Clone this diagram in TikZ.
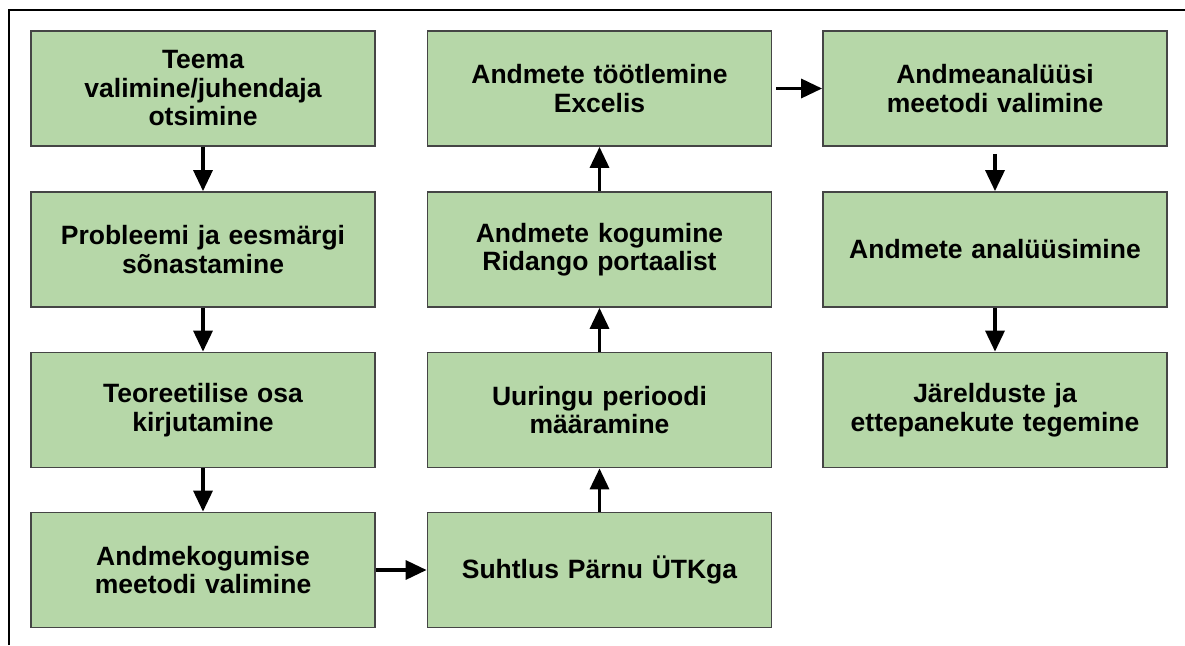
\documentclass[tikz,border=0pt]{standalone}
\usepackage{fontspec}
\setmainfont{Liberation Sans}
\usetikzlibrary{arrows.meta}
\definecolor{boxfill}{HTML}{B6D7A8}
\definecolor{boxline}{HTML}{454545}
\tikzset{
  stepbox/.style={draw=boxline, line width=1.8pt, fill=boxfill, rectangle,
    minimum width=344pt, minimum height=115pt, inner sep=0pt,
    align=center, text width=336pt,
    font=\fontsize{26.5}{28.5}\selectfont\bfseries},
  flow/.style={line width=3.4pt, -{Triangle[length=21pt,width=19pt]}},
  frameline/.style={line width=1.6pt}
}
\begin{document}
\begin{tikzpicture}[x=1pt,y=-1pt]
\useasboundingbox (0,0) rectangle (1185,645);
\coordinate (fa) at (9,645);
\coordinate (fb) at (9,10);
\coordinate (fc) at (1185,10);
\draw[frameline] (fa) -- (fb) -- (fc);
% column 1
\node[stepbox] (a1) at (203,88.5) {Teema\\valimine/juhendaja\\otsimine};
\node[stepbox] (a2) at (203,249.5) {Probleemi ja eesmärgi\\sõnastamine};
\node[stepbox] (a3) at (203,410) {Teoreetilise osa\\kirjutamine};
\node[stepbox] (a4) at (203,570) {Andmekogumise\\meetodi valimine};
% column 2
\node[stepbox] (b4) at (599.5,570) {Suhtlus Pärnu ÜTKga};
\node[stepbox] (b3) at (599.5,410) {Uuringu perioodi\\määramine};
\node[stepbox] (b2) at (599.5,249.5) {Andmete kogumine\\Ridango portaalist};
\node[stepbox] (b1) at (599.5,88.5) {Andmete töötlemine\\Excelis};
% column 3
\node[stepbox] (c1) at (995,88.5) {Andmeanalüüsi\\meetodi valimine};
\node[stepbox] (c2) at (995,249.5) {Andmete analüüsimine};
\node[stepbox] (c3) at (995,410) {Järelduste ja\\ettepanekute tegemine};
% connectors
\draw[flow] (a1) -- (a2);
\draw[flow] (a2) -- (a3);
\draw[flow] (a3) -- (a4);
\draw[flow] (a4) -- (b4);
\draw[flow] (b4) -- (b3);
\draw[flow] (b3) -- (b2);
\draw[flow] (b2) -- (b1);
\draw[flow, shorten <=4pt] (b1) -- (c1);
\draw[flow, shorten <=7pt] (c1) -- (c2);
\draw[flow] (c2) -- (c3);
\end{tikzpicture}
\end{document}
